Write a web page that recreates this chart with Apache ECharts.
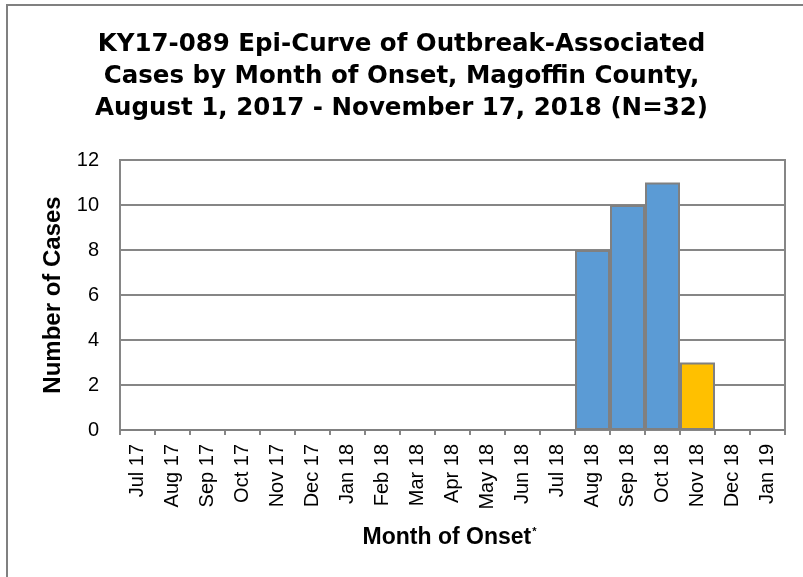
<!DOCTYPE html>
<html>
<head>
<meta charset="utf-8">
<script src="https://cdn.jsdelivr.net/npm/echarts@6/dist/echarts.min.js"></script>
<style>
  html, body { margin: 0; padding: 0; background: #fff; }
  #chart { width: 803px; height: 577px; }
</style>
</head>
<body>
<div id="chart"></div>
<script>
const months = ['Jul 17', 'Aug 17', 'Sep 17', 'Oct 17', 'Nov 17', 'Dec 17', 'Jan 18', 'Feb 18', 'Mar 18',
  'Apr 18', 'May 18', 'Jun 18', 'Jul 18', 'Aug 18', 'Sep 18', 'Oct 18', 'Nov 18', 'Dec 18', 'Jan 19'];
const cases = [0, 0, 0, 0, 0, 0, 0, 0, 0, 0, 0, 0, 0, 8, 10, 11, 3, 0, 0];
// Nov 18 is drawn in yellow (incomplete month)
const highlightMonth = 'Nov 18';

const chart = echarts.init(document.getElementById('chart'));

const barData = cases.map(function (v, i) {
  return {
    value: v,
    itemStyle: { color: months[i] === highlightMonth ? '#FFC000' : '#5B9BD5' }
  };
});

const arial = 'Liberation Sans, Arial, sans-serif';

const option = {
  backgroundColor: '#fff',
  animation: false,
  title: {
    text: 'KY17-089 Epi-Curve of Outbreak-Associated\nCases by Month of Onset, Magoffin County,\nAugust 1, 2017 - November 17, 2018 (N=32)',
    left: 'center',
    top: 24,
    textStyle: {
      fontFamily: 'DejaVu Sans, sans-serif',
      fontWeight: 'bold',
      fontSize: 24.5,
      lineHeight: 32,
      color: '#000'
    }
  },
  graphic: [{
    type: 'rect',
    shape: { x: 7, y: 5, width: 830, height: 620 },
    style: { fill: 'none', stroke: '#808080', lineWidth: 2 },
    silent: true
  }],
  grid: {
    left: 120,
    right: 18,
    top: 160,
    bottom: 147,
    show: true,
    borderColor: '#868686',
    borderWidth: 2
  },
  xAxis: {
    type: 'category',
    data: months,
    name: 'Month of Onset{sup|*}',
    nameLocation: 'middle',
    nameGap: 96,
    nameTextStyle: {
      fontFamily: arial,
      fontWeight: 'bold',
      fontSize: 23,
      color: '#000',
      padding: [0, 6, 0, 0],
      rich: {
        sup: { fontFamily: arial, fontSize: 11, fontWeight: 'bold', verticalAlign: 'top', padding: [0, 0, 12, 1], color: '#000' }
      }
    },
    axisLine: { lineStyle: { color: '#868686', width: 2 } },
    axisTick: { show: true, length: 5, lineStyle: { color: '#868686', width: 2 } },
    axisLabel: {
      rotate: 90,
      interval: 0,
      margin: 14,
      fontFamily: arial,
      fontSize: 20,
      color: '#000'
    }
  },
  yAxis: {
    type: 'value',
    min: 0,
    max: 12,
    interval: 2,
    name: 'Number of Cases',
    nameLocation: 'middle',
    nameGap: 52,
    nameTextStyle: {
      fontFamily: arial,
      fontWeight: 'bold',
      fontSize: 24,
      color: '#000'
    },
    axisLine: { show: true, lineStyle: { color: '#868686', width: 2 } },
    axisTick: { show: false },
    splitLine: { lineStyle: { color: '#868686', width: 2 } },
    axisLabel: {
      margin: 21,
      fontFamily: arial,
      fontSize: 20,
      color: '#000'
    }
  },
  series: [{
    type: 'bar',
    data: barData,
    barCategoryGap: 0,
    itemStyle: { borderColor: '#808080', borderWidth: 2 }
  }]
};

chart.setOption(option);
</script>
</body>
</html>
